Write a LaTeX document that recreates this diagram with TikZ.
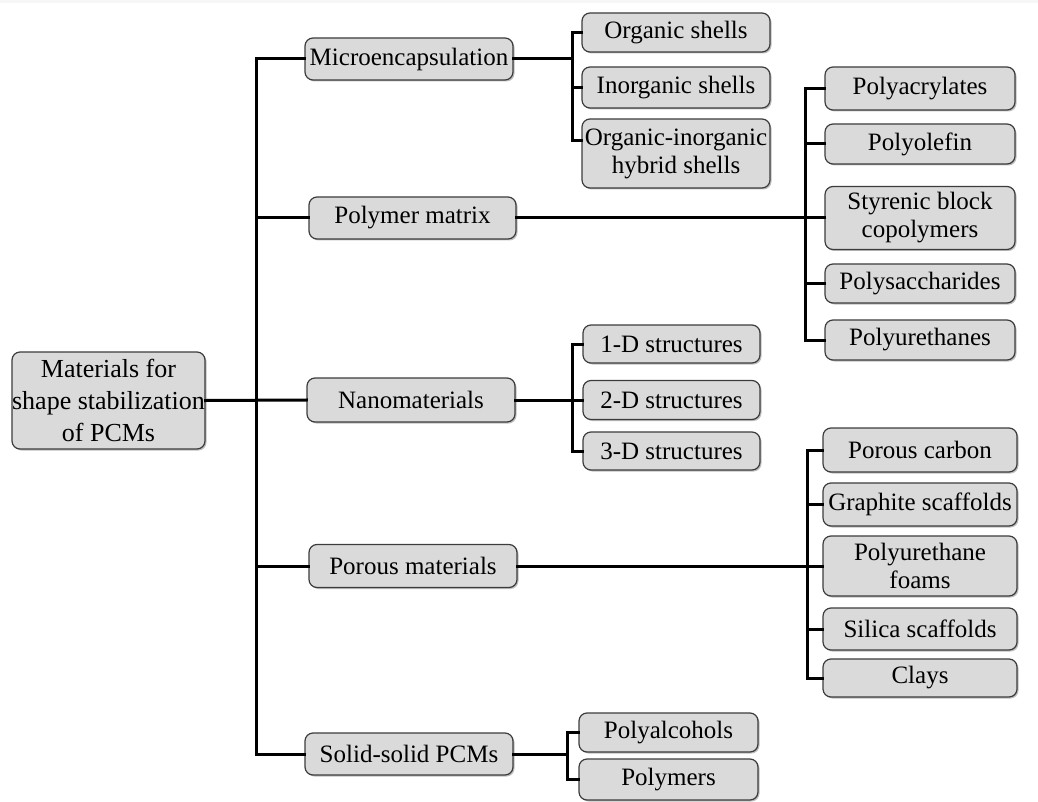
\documentclass[tikz,border=0pt]{standalone}
\usepackage{fontspec}
\setmainfont{Liberation Serif}
\usetikzlibrary{shadows}
\definecolor{boxfill}{RGB}{218,218,218}
\definecolor{boxline}{RGB}{60,60,60}
\definecolor{topband}{RGB}{246,246,246}
\tikzset{
  box/.style={draw=boxline, fill=boxfill, line width=1.2pt, rounded corners=8pt,
    align=center, inner sep=0pt, font=\fontsize{25}{28}\selectfont,
    drop shadow={shadow xshift=1.5pt, shadow yshift=-1.5pt, fill=black, opacity=0.25}},
  conn/.style={draw=black, line width=3pt, line cap=rect}
}
\begin{document}
\begin{tikzpicture}[x=1pt,y=-1pt]
\useasboundingbox (0,0) rectangle (1038,802);
\fill[topband] (0,0) rectangle (1038,3.5);
% root
\node[box, minimum width=193, minimum height=97, font=\fontsize{26}{32}\selectfont] (root) at (108.5,400.5) {Materials for\\shape stabilization\\of PCMs};
% level 1
\node[box, minimum width=208, minimum height=42] (micro) at (409,59) {Microencapsulation};
\node[box, minimum width=207, minimum height=42] (polym) at (412.5,218) {Polymer matrix};
\node[box, minimum width=208, minimum height=44] (nano) at (411,400) {Nanomaterials};
\node[box, minimum width=208, minimum height=43] (porous) at (413,566) {Porous materials};
\node[box, minimum width=208, minimum height=42] (solid) at (409,754) {Solid-solid PCMs};
% micro children
\node[box, minimum width=188, minimum height=39] (orgsh) at (676,32.5) {Organic shells};
\node[box, minimum width=188, minimum height=41] (inorg) at (676,87.5) {Inorganic shells};
\node[box, minimum width=188, minimum height=69] (hybrid) at (676,153.5) {Organic-inorganic\\hybrid shells};
% polymer children
\node[box, minimum width=190, minimum height=43] (pacryl) at (920,88.5) {Polyacrylates};
\node[box, minimum width=190, minimum height=40] (polyol) at (920,144) {Polyolefin};
\node[box, minimum width=190, minimum height=63] (styr) at (920,218) {Styrenic block\\copolymers};
\node[box, minimum width=190, minimum height=39] (psacch) at (920,283.5) {Polysaccharides};
\node[box, minimum width=190, minimum height=40] (purt) at (920,340) {Polyurethanes};
% nano children
\node[box, minimum width=177, minimum height=38] (d1) at (671.5,344) {1-D structures};
\node[box, minimum width=177, minimum height=39] (d2) at (671.5,400) {2-D structures};
\node[box, minimum width=177, minimum height=38] (d3) at (671.5,451) {3-D structures};
% porous children
\node[box, minimum width=194, minimum height=44] (pc) at (920,450) {Porous carbon};
\node[box, minimum width=194, minimum height=43] (gs) at (920,504.5) {Graphite scaffolds};
\node[box, minimum width=194, minimum height=60] (puf) at (920,566) {Polyurethane\\foams};
\node[box, minimum width=194, minimum height=42] (ss) at (920,629) {Silica scaffolds};
\node[box, minimum width=194, minimum height=38] (clays) at (920,678) {Clays};
% solid children
\node[box, minimum width=179, minimum height=39] (pal) at (668.5,732.5) {Polyalcohols};
\node[box, minimum width=179, minimum height=41] (pmers) at (668.5,779.5) {Polymers};
% coordinates for trunks
\coordinate (tbot) at (256,754);
\coordinate (hyb) at ([yshift=12.5pt]hybrid.west);
\coordinate (v1) at (572,141);
\coordinate (v2) at (805,340);
\coordinate (v3) at (572,451);
\coordinate (v4) at (807,678);
\coordinate (v5) at (567,779.5);
% main trunk
\draw[conn] (micro.west) -| (tbot) -- (solid.west);
\draw[conn] (root.east) -- (nano.west);
\draw[conn] (polym.west) -- (polym.west -| tbot);
\draw[conn] (porous.west) -- (porous.west -| tbot);
% micro
\draw[conn] (orgsh.west) -| (v1) -- (hyb);
\draw[conn] (micro.east) -- (micro.east -| v1);
\draw[conn] (inorg.west) -- (inorg.west -| v1);
% polymer
\draw[conn] (pacryl.west) -| (v2) -- (purt.west);
\draw[conn] (polym.east) -- (styr.west);
\draw[conn] (polyol.west) -- (polyol.west -| v2);
\draw[conn] (psacch.west) -- (psacch.west -| v2);
% nano
\draw[conn] (d1.west) -| (v3) -- (d3.west);
\draw[conn] (nano.east) -- (d2.west);
% porous
\draw[conn] (pc.west) -| (v4) -- (clays.west);
\draw[conn] (porous.east) -- (puf.west);
\draw[conn] (gs.west) -- (gs.west -| v4);
\draw[conn] (ss.west) -- (ss.west -| v4);
% solid
\draw[conn] (pal.west) -| (v5) -- (pmers.west);
\draw[conn] (solid.east) -- (solid.east -| v5);
\end{tikzpicture}
\end{document}
